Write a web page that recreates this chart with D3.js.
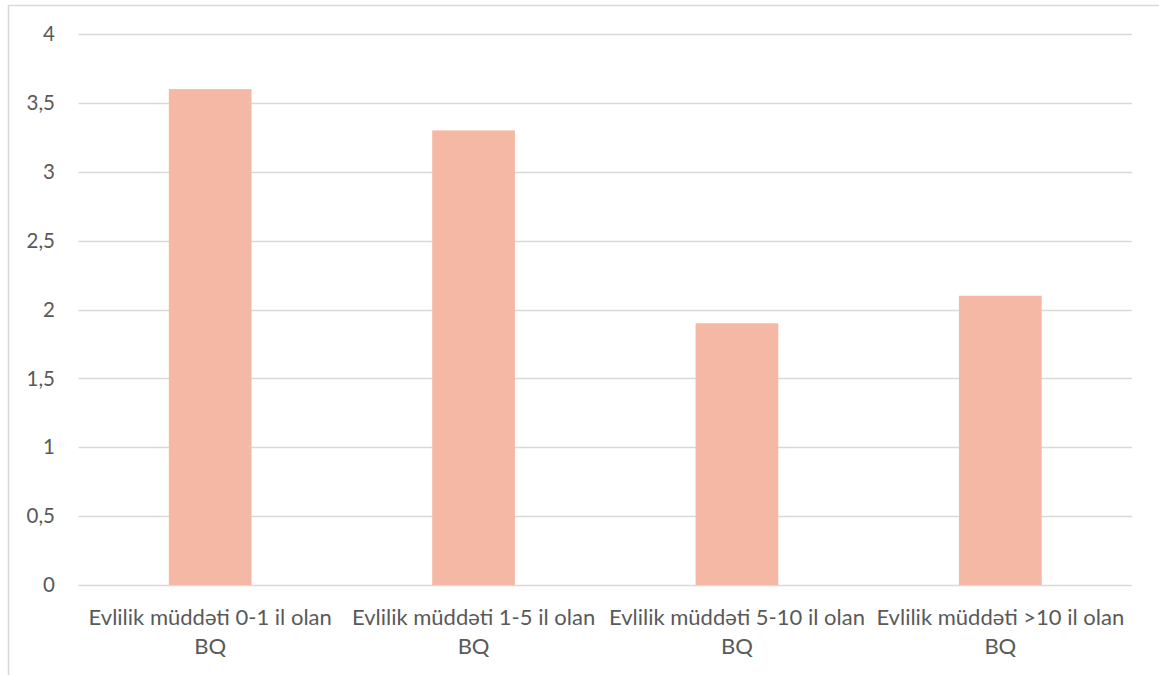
<!DOCTYPE html>
<html>
<head>
<meta charset="utf-8">
<script src="https://cdn.jsdelivr.net/npm/d3@7"></script>
<style>
  html, body { margin: 0; padding: 0; background: #fff; }
  svg { display: block; }
</style>
</head>
<body>
<svg id="chart" width="1159" height="675"></svg>
<script>
// Chart data
const categories = [
  ["Evlilik müddəti 0-1 il olan", "BQ"],
  ["Evlilik müddəti 1-5 il olan", "BQ"],
  ["Evlilik müddəti 5-10 il olan", "BQ"],
  ["Evlilik müddəti >10 il olan", "BQ"]
];
const values = [3.6, 3.3, 1.9, 2.1];
const yTicks = [0, 0.5, 1, 1.5, 2, 2.5, 3, 3.5, 4];

const W = 1159, H = 675;
const plot = { left: 78.5, right: 1132, top: 34, bottom: 585 };
const fontFamily = "Lato, 'Open Sans', sans-serif";
const textColor = "#595959";

const svg = d3.select("#chart");

// Outer chart frame
svg.append("rect")
  .attr("x", 8.5).attr("y", 5.5)
  .attr("width", W + 10).attr("height", H + 10)
  .attr("fill", "#fff")
  .attr("stroke", "#d9d9d9")
  .attr("stroke-width", 1.5);

const x = d3.scaleBand()
  .domain(d3.range(categories.length))
  .range([plot.left, plot.right])
  .paddingInner(0.686)
  .paddingOuter(0.343);

const y = d3.scaleLinear()
  .domain([0, 4])
  .range([plot.bottom, plot.top]);

// Horizontal gridlines
svg.append("g")
  .selectAll("line")
  .data(yTicks)
  .join("line")
  .attr("x1", plot.left).attr("x2", plot.right)
  .attr("y1", d => Math.round(y(d)) + 0.5)
  .attr("y2", d => Math.round(y(d)) + 0.5)
  .attr("stroke", "#d9d9d9")
  .attr("stroke-width", 1.5);

// Bars
svg.append("g")
  .selectAll("rect")
  .data(values)
  .join("rect")
  .attr("x", (d, i) => x(i))
  .attr("width", x.bandwidth())
  .attr("y", d => y(d))
  .attr("height", d => y(0) - y(d))
  .attr("fill", "#f4b8a4");

// Value axis labels
const fmt = d => String(d).replace(".", ",");
svg.append("g")
  .selectAll("text")
  .data(yTicks)
  .join("text")
  .attr("x", 55)
  .attr("y", d => y(d))
  .attr("dy", "0.35em")
  .attr("text-anchor", "end")
  .attr("font-family", fontFamily)
  .attr("font-size", 20.5)
  .attr("fill", textColor)
  .text(fmt);

// Category labels (two lines each)
const catG = svg.append("g")
  .selectAll("text")
  .data(categories)
  .join("text")
  .attr("text-anchor", "middle")
  .attr("font-family", fontFamily)
  .attr("font-size", 22)
  .attr("fill", textColor);

catG.selectAll("tspan")
  .data((d, i) => d.map(line => ({ line, i })))
  .join("tspan")
  .attr("x", d => x(d.i) + x.bandwidth() / 2)
  .attr("y", (d, j) => 625 + j * 29)
  .text(d => d.line);
</script>
</body>
</html>
